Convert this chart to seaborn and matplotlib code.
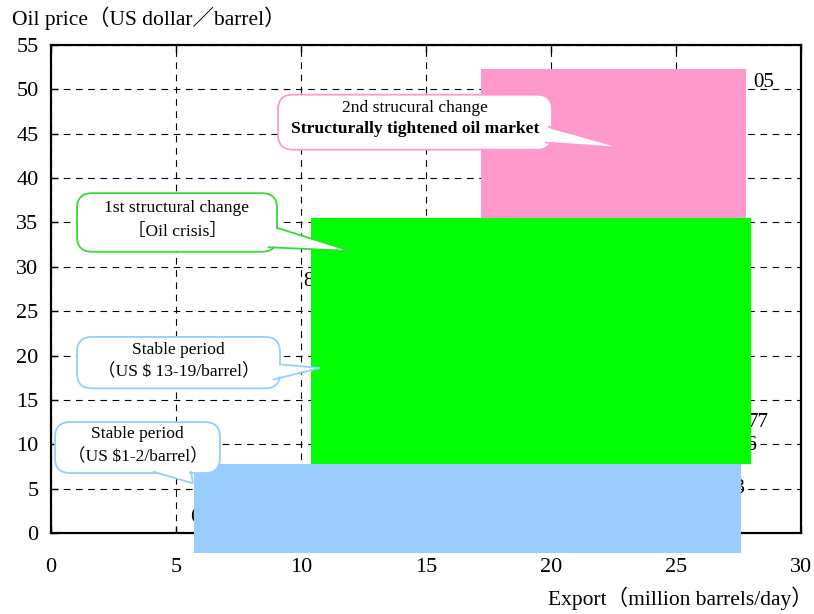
import matplotlib
matplotlib.use("Agg")
import matplotlib.pyplot as plt
from matplotlib.patches import FancyBboxPatch, Polygon
import seaborn as sns

# Periods of the oil market, drawn as coloured blocks (export range x price range)
periods = ["Stable period (US$1-2)", "1st structural change", "2nd structural change"]
export_start = [5.7, 10.4, 17.2]
export_end = [27.6, 28.0, 27.8]
price_low = [-2.2, 7.8, 35.5]
price_high = [7.8, 35.5, 52.3]
block_colors = ["#99CCFF", "#00FF00", "#FF99CC"]

# Year labels of the underlying export/price path
years = ["60", "73", "76", "77", "81", "05"]
year_export = [5.55, 27.8, 28.24, 27.88, 10.1, 28.08]
year_price = [1.8, 5.0, 9.9, 12.4, 28.3, 50.8]
year_align = ["left", "right", "right", "left", "left", "left"]

x_ticks = [0, 5, 10, 15, 20, 25, 30]
y_ticks = [0, 5, 10, 15, 20, 25, 30, 35, 40, 45, 50, 55]

sns.set_theme(style="white")
SERIF = ["Liberation Serif", "Noto Sans CJK JP"]
plt.rcParams["font.family"] = SERIF

fig = plt.figure(figsize=(8.14, 6.14), dpi=100)
ax = fig.add_axes([51 / 814, 1 - 533 / 614, 750 / 814, 488 / 614])
ax.set_xlim(0, 30)
ax.set_ylim(0, 55)
ax.set_xticks(x_ticks)
ax.set_yticks(y_ticks)
ax.tick_params(direction="in", length=5, width=1, colors="black", labelsize=16,
               top=True, bottom=True, left=True, right=False)
ax.tick_params(axis="x", pad=18)
ax.tick_params(axis="y", pad=9)
for s in ax.spines.values():
    s.set_linewidth(1.6)
    s.set_color("black")
ax.grid(True, color="black", linestyle=(0, (6, 5)), linewidth=0.8)
ax.set_axisbelow(True)

# Year labels (partly hidden behind the blocks)
for t, xv, yv, ha in zip(years, year_export, year_price, year_align):
    ax.text(xv, yv, t, ha=ha, va="center", fontsize=15, color="black", zorder=1)

# Period blocks
widths = [e - s for s, e in zip(export_start, export_end)]
heights = [h - l for l, h in zip(price_low, price_high)]
bars = ax.bar(export_start, heights, width=widths, bottom=price_low, align="edge",
              color=block_colors, edgecolor="none", zorder=3)
for b in bars:
    b.set_clip_on(False)

# Callouts: rounded box + pointer
ASPECT = (55 / 488) / (30 / 750)


def callout(x0, y0, x1, y1, base, tip, color, lines, weights, text_y):
    box = FancyBboxPatch((x0, y0), x1 - x0, y1 - y0,
                         boxstyle="round,pad=0,rounding_size=0.6",
                         mutation_aspect=ASPECT, facecolor="white",
                         edgecolor=color, linewidth=1.3, zorder=5)
    ax.add_patch(box)
    (bx1, by1), (bx2, by2) = base
    tx, ty = tip
    # inner fill hides the box edge at the pointer's base
    cx, cy = (x0 + x1) / 2, (y0 + y1) / 2
    fill = Polygon([(bx1 + (cx - bx1) * 0.05, by1 + (cy - by1) * 0.05), (tx, ty),
                    (bx2 + (cx - bx2) * 0.05, by2 + (cy - by2) * 0.05)],
                   closed=True, facecolor="white", edgecolor="none", zorder=6)
    ax.add_patch(fill)
    ax.plot([bx1, tx, bx2], [by1, ty, by2], color=color, linewidth=1.3, zorder=7,
            solid_joinstyle="miter")
    for ln, w, yy in zip(lines, weights, text_y):
        ax.text(cx, yy, ln, ha="center", va="center", fontsize=12.6,
                fontweight=w, color="black", zorder=8)


callout(9.08, 43.2, 20.04, 49.4, [(19.9, 45.8), (19.8, 44.0)], (22.84, 43.4),
        "#FF99CC", ["2nd strucural change", "Structurally tightened oil market"],
        ["normal", "bold"], [47.9, 45.5])
callout(1.04, 31.7, 9.04, 38.3, [(9.04, 34.4), (8.7, 32.2)], (11.96, 31.8),
        "#33DD33", ["1st structural change", "［Oil crisis］"],
        ["normal", "normal"], [36.6, 33.9])
callout(1.04, 16.3, 9.16, 22.1, [(9.16, 19.0), (8.9, 17.3)], (10.76, 18.6),
        "#99CCFF", ["Stable period", "（US $ 13-19/barrel）"],
        ["normal", "normal"], [20.6, 18.1])
callout(0.16, 6.76, 6.76, 12.5, [(4.1, 6.9), (5.6, 6.9)], (5.68, 5.6),
        "#99CCFF", ["Stable period", "（US $1-2/barrel）"],
        ["normal", "normal"], [11.2, 8.6])

fig.text(12 / 814, 1 - 18 / 614, "Oil price（US dollar／barrel）", ha="left",
         va="center", fontsize=15.5, color="black")
fig.text(680 / 814, 1 - 598 / 614, "Export（million barrels/day）", ha="center",
         va="center", fontsize=15.5, color="black")

fig.savefig("out.png", dpi=100)
